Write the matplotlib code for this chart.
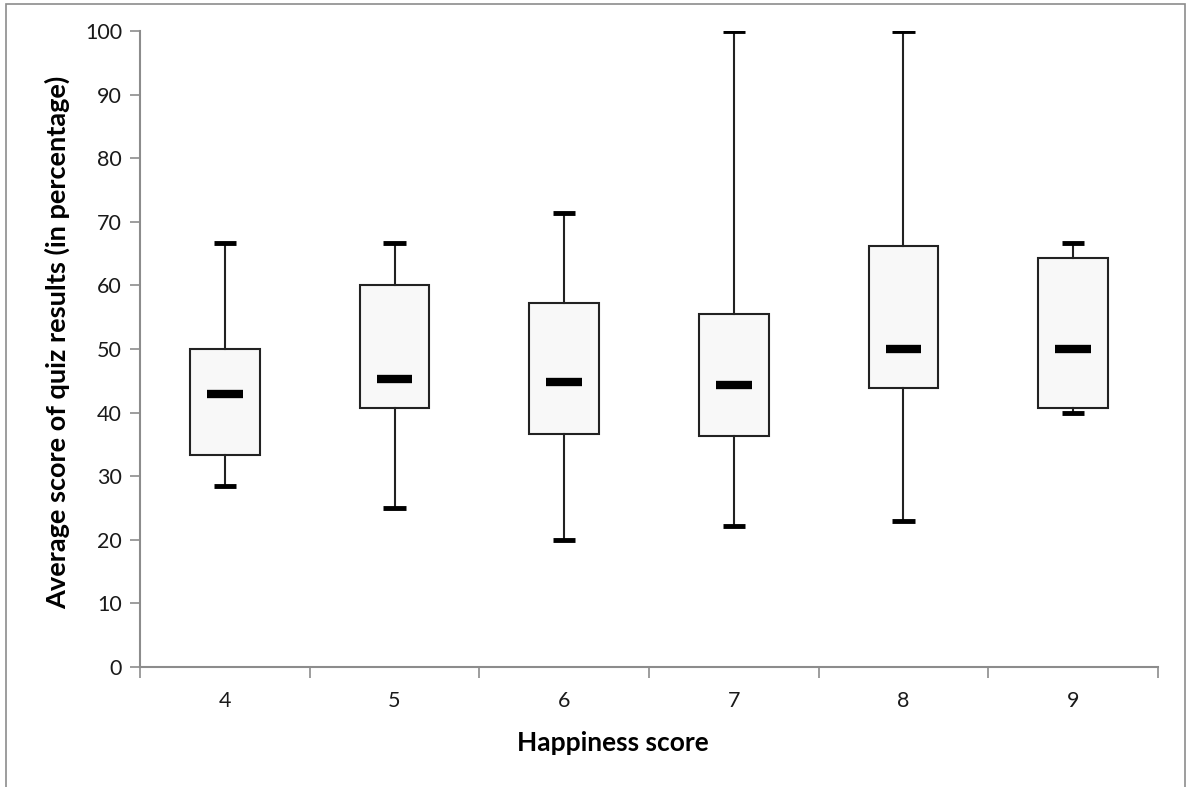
import matplotlib
matplotlib.use("Agg")
import matplotlib.pyplot as plt
from matplotlib.patches import Rectangle

# happiness score categories and box statistics
categories = ["4", "5", "6", "7", "8", "9"]
whisker_low = [28.5, 25.0, 20.0, 22.2, 23.0, 40.0]
q1 = [33.3, 40.7, 36.6, 36.3, 43.8, 40.7]
medians = [42.9, 45.3, 44.8, 44.3, 50.0, 50.0]
q3 = [50.0, 60.0, 57.2, 55.5, 66.2, 64.3]
whisker_high = [66.7, 66.7, 71.4, 100.0, 100.0, 66.7]

plt.rcParams['font.family'] = ['Lato', 'DejaVu Sans']

fig = plt.figure(figsize=(11.9, 7.87), dpi=100)
ax = fig.add_axes([140 / 1190, 1 - 667 / 787, (1158 - 140) / 1190, (667 - 31) / 787])

positions = list(range(1, len(categories) + 1))
stats = []
for i, cat in enumerate(categories):
    stats.append(dict(label=cat, whislo=whisker_low[i], q1=q1[i], med=medians[i],
                      q3=q3[i], whishi=whisker_high[i], fliers=[]))

ax.bxp(stats, positions=positions, widths=0.41, patch_artist=True,
       showfliers=False, capwidths=0.13,
       boxprops=dict(facecolor="#f8f8f8", edgecolor="#222222", linewidth=1.5),
       whiskerprops=dict(color="#222222", linewidth=1.5),
       capprops=dict(color="black", linewidth=3.5, solid_capstyle="butt"),
       medianprops=dict(linewidth=0))

# short thick median bars like the original
ax.hlines(medians, [p - 0.105 for p in positions], [p + 0.105 for p in positions],
          colors="black", linewidth=6, zorder=5)

ax.set_xlim(0.5, len(categories) + 0.5)
ax.set_ylim(0, 100)
ax.set_yticks(range(0, 101, 10))
ax.set_xticks(positions)
ax.set_xticklabels(categories)
ax.set_xticks([p + 0.5 for p in [0] + positions], minor=True)
ax.tick_params(axis="x", which="major", length=0, pad=17, labelsize=15.5, labelcolor="#1a1a1a")
ax.tick_params(axis="x", which="minor", length=8, width=1.2, color="#8c8c8c", direction="out")
ax.tick_params(axis="y", length=7, width=1.2, color="#8c8c8c", direction="out",
               labelsize=15.5, labelcolor="#1a1a1a", pad=6)

for side in ["top", "right"]:
    ax.spines[side].set_visible(False)
for side in ["left", "bottom"]:
    ax.spines[side].set_color("#8c8c8c")
    ax.spines[side].set_linewidth(1.5)

fig.text(613 / 1190, 1 - 743 / 787, "Happiness score", ha="center", va="center",
         fontsize=19, fontweight="bold", color="black")
fig.text(57 / 1190, 1 - 342 / 787, "Average score of quiz results (in percentage)",
         ha="center", va="center", rotation=90, fontsize=19.5, fontweight="bold", color="black")

# thin grey border around the chart area
fig.patches.append(Rectangle((6 / 1190, -0.01), (1185 - 6) / 1190, 1.01 - 4 / 787,
                             transform=fig.transFigure, fill=False,
                             edgecolor="#8c8c8c", linewidth=1.2))

fig.savefig("out.png", dpi=100)
